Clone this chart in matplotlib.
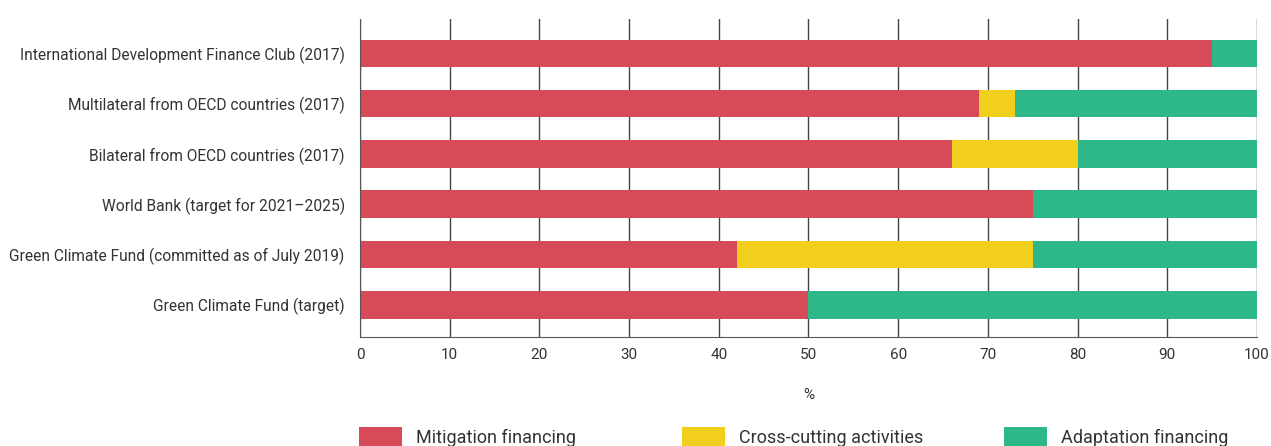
import matplotlib
matplotlib.use("Agg")
import matplotlib.pyplot as plt
from matplotlib.patches import Patch

categories = [
    "International Development Finance Club (2017)",
    "Multilateral from OECD countries (2017)",
    "Bilateral from OECD countries (2017)",
    "World Bank (target for 2021\u20132025)",
    "Green Climate Fund (committed as of July 2019)",
    "Green Climate Fund (target)",
]
mitigation = [95, 69, 66, 75, 42, 50]
cross_cutting = [0, 4, 14, 0, 33, 0]
adaptation = [5, 27, 20, 25, 25, 50]
series_names = ["Mitigation financing", "Cross-cutting activities", "Adaptation financing"]
xticks = list(range(0, 101, 10))

RED = "#D64B57"
YELLOW = "#F2CF1F"
GREEN = "#2DB888"
TXT = "#333333"

plt.rcParams["font.family"] = ["Roboto", "DejaVu Sans"]

fig = plt.figure(figsize=(12.71, 4.46), dpi=100)
ax = fig.add_axes([0.2832, 0.2444, 0.7058, 0.7126])

ypos = list(range(len(categories)))
h = 0.55
left2 = [m + c for m, c in zip(mitigation, cross_cutting)]
ax.barh(ypos, mitigation, height=h, color=RED, zorder=2)
ax.barh(ypos, cross_cutting, left=mitigation, height=h, color=YELLOW, zorder=2)
ax.barh(ypos, adaptation, left=left2, height=h, color=GREEN, zorder=2)

ax.set_xlim(0, 100)
ax.set_ylim(5.64, -0.68)
ax.set_yticks(ypos)
ax.set_yticklabels(categories, fontsize=11.2, color=TXT)
ax.set_xticks(xticks)
ax.set_xticklabels([str(t) for t in xticks], fontsize=11, color=TXT)
ax.tick_params(axis="both", length=0)
ax.tick_params(axis="y", pad=11)
ax.tick_params(axis="x", pad=8)
ax.grid(axis="x", color="#444444", lw=1, zorder=1)
for s in ["top", "right"]:
    ax.spines[s].set_visible(False)
ax.spines["left"].set_color("#555555")
ax.spines["bottom"].set_color("#555555")
ax.set_xlabel("%", fontsize=11, color=TXT, labelpad=19)

# legend, one entry per slot
colors = [RED, YELLOW, GREEN]
xs = [0.2825, 0.5365, 0.7900]
for name, col, x in zip(series_names, colors, xs):
    leg = fig.legend(handles=[Patch(facecolor=col, edgecolor="none")], labels=[name],
                     loc="center left", bbox_to_anchor=(x, 0.020), frameon=False,
                     fontsize=13, handlelength=2.4, handleheight=1.3, handletextpad=0.75,
                     borderpad=0, borderaxespad=0)
    for t in leg.get_texts():
        t.set_color(TXT)

fig.savefig("out.png", dpi=100)
